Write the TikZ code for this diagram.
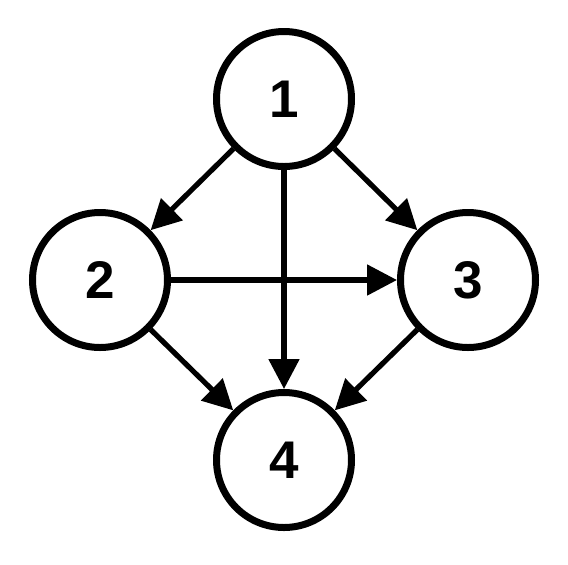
\documentclass[tikz,border=0pt]{standalone}
\usepackage{fontspec}
\setmainfont{Liberation Sans}
\usepackage{tikz}
\usetikzlibrary{arrows.meta}

\tikzset{
    vertex/.style={draw=black, circle, line width=3.5pt, minimum size=67.5pt, inner sep=0pt,
        font=\fontsize{26.5}{30}\selectfont\bfseries},
    link/.style={line width=2.6pt, -{Triangle[length=15pt, width=15pt]}}
}

\begin{document}
\begin{tikzpicture}[x=0.5pt, y=-0.5pt]
        \useasboundingbox (0, 0) rectangle (568, 564);

        \node[vertex] (v1) at (284, 99) {1};
        \node[vertex] (v2) at (100, 280) {2};
        \node[vertex] (v3) at (468, 280) {3};
        \node[vertex] (v4) at (284, 460) {4};

        \draw[link] (v1) -- (v2);
        \draw[link] (v1) -- (v3);
        \draw[link] (v1) -- (v4);
        \draw[link] (v2) -- (v3);
        \draw[link] (v2) -- (v4);
        \draw[link] (v3) -- (v4);
    \end{tikzpicture}
\end{document}
